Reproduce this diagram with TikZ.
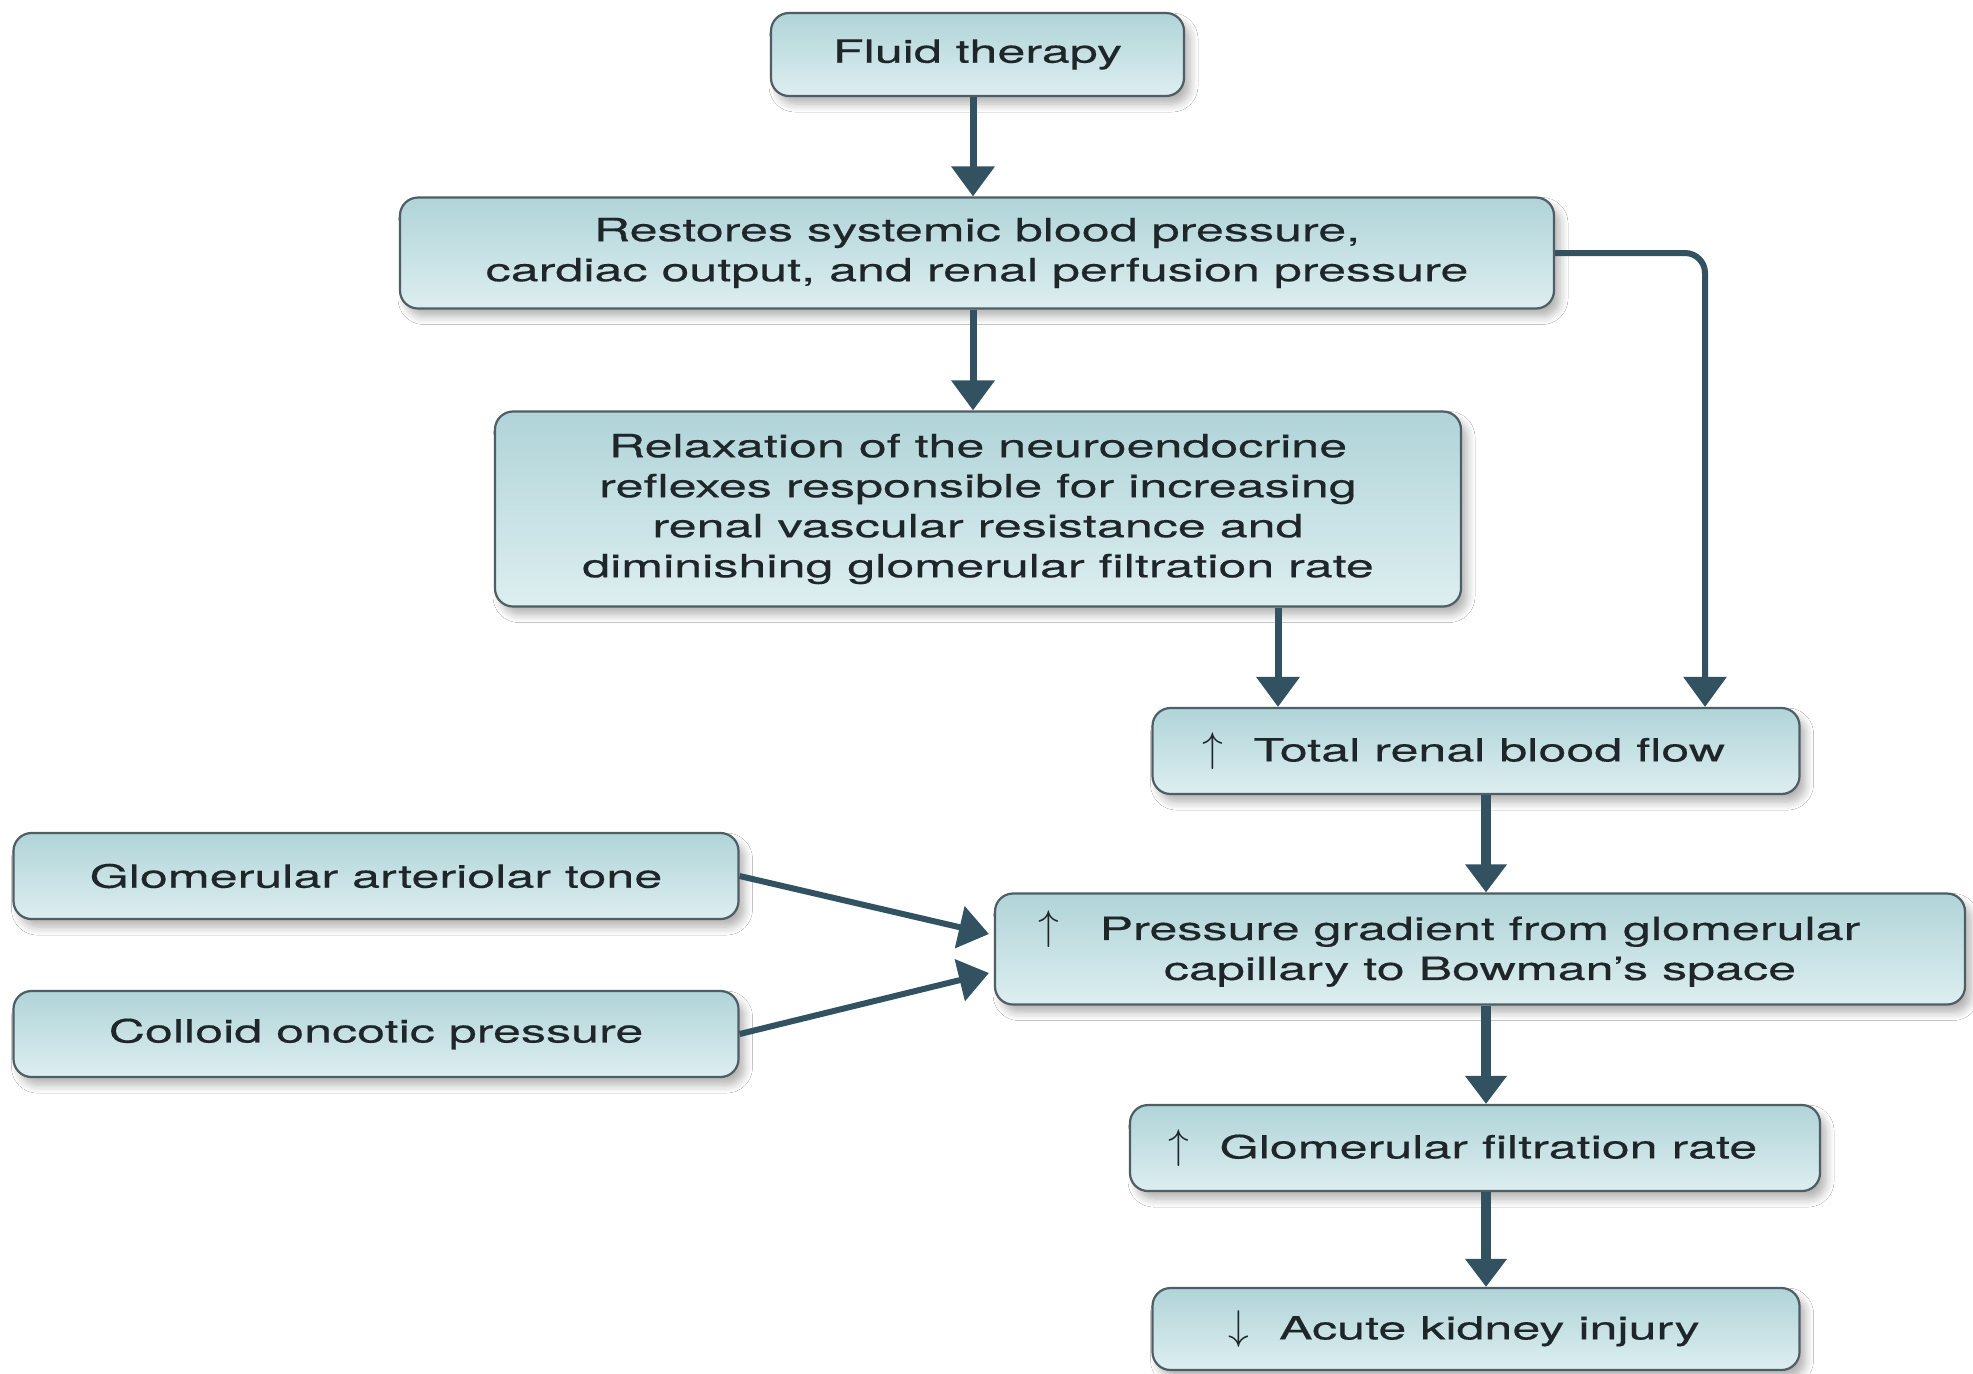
\documentclass[tikz,border=0pt]{standalone}
\usepackage{fontspec}
\newfontfamily\fs{TeX Gyre Heros}[FakeStretch=1.57,FakeBold=0.4]
\usetikzlibrary{arrows.meta,shadows.blur,calc}
\definecolor{arrc}{RGB}{50,82,98}
\definecolor{boxline}{RGB}{78,94,100}
\definecolor{boxtop}{RGB}{176,212,216}
\definecolor{boxbot}{RGB}{221,238,240}
\definecolor{txt}{RGB}{30,38,42}
\newcommand{\upar}{{\fontsize{21pt}{21pt}\selectfont$\uparrow$}}
\newcommand{\dnar}{{\fontsize{21pt}{21pt}\selectfont$\downarrow$}}
\tikzset{
  flowbox/.style={draw=boxline, line width=1.1pt, rounded corners=9pt,
    top color=boxtop, bottom color=boxbot, align=center, text=txt,
    inner sep=0pt, font=\fs\fontsize{16pt}{20pt}\selectfont,
    blur shadow={shadow xshift=3pt, shadow yshift=-4pt, shadow blur radius=4pt, shadow blur steps=8, shadow opacity=30}},
  arrthin/.style={draw=arrc, line width=3.5pt, -{Triangle[width=21pt,length=15pt]}},
  arrthick/.style={draw=arrc, line width=5.2pt, -{Triangle[width=20pt,length=14pt]}},
}
\begin{document}
\begin{tikzpicture}[x=0.5pt,y=-0.5pt]
\useasboundingbox[fill=white] (0,0) rectangle (1973,1373);

\node[flowbox, minimum width=206.5pt, minimum height=41.5pt] (fluid) at (977.5,54.5) {Fluid therapy};
\node[flowbox, minimum width=577pt, minimum height=55.5pt] (restore) at (977,253)
  {Restores systemic blood pressure,\\cardiac output, and renal perfusion pressure};
\node[flowbox, minimum width=483pt, minimum height=97.5pt] (relax) at (978,509)
  {Relaxation of the neuroendocrine\\reflexes responsible for increasing\\renal vascular resistance and\\diminishing glomerular filtration rate};
\node[flowbox, minimum width=323.5pt, minimum height=43pt] (total) at (1476,751)
  {\upar\hspace{15pt}Total renal blood flow\hspace{12pt}};
\node[flowbox, minimum width=362.5pt, minimum height=43pt] (gat) at (376,876) {Glomerular arteriolar tone};
\node[flowbox, minimum width=362.5pt, minimum height=43pt] (cop) at (376,1034) {Colloid oncotic pressure};
\node[flowbox, minimum width=485pt, minimum height=55.5pt] (press) at (1480,949)
  {\llap{\upar\hspace{20pt}}Pressure gradient from glomerular\\capillary to Bowman’s space};
\node[flowbox, minimum width=345pt, minimum height=43pt] (gfr) at (1475,1148)
  {\upar\hspace{15pt}Glomerular filtration rate\hspace{12pt}};
\node[flowbox, minimum width=323.5pt, minimum height=41pt] (aki) at (1476,1329)
  {\dnar\hspace{15pt}Acute kidney injury\hspace{12pt}};

% upper connectors
\coordinate (a1) at ($(fluid.south)+(-4.5,0)$);
\draw[arrthin] (a1) -- (a1 |- restore.north);
\coordinate (a2) at ($(restore.south)+(-4,0)$);
\draw[arrthin] (a2) -- (a2 |- relax.north);
\coordinate (tR) at ($(total.north)+(229,0)$);
\draw[arrthin, line width=3pt, rounded corners=10pt] (restore.east) -| (tR);
\coordinate (tL) at ($(total.north)+(-198,0)$);
\draw[arrthin] (relax.south -| tL) -- (tL);

% side inputs
\draw[arrthin, line width=3pt] (gat.east) -- ($(press.west)+(-5,-15)$);
\draw[arrthin, line width=3pt] (cop.east) -- ($(press.west)+(-5,24)$);

% trunk
\coordinate (b1) at ($(total.south)+(10,0)$);
\draw[arrthick] (b1) -- (b1 |- press.north);
\coordinate (b2) at ($(press.south)+(6,0)$);
\draw[arrthick] (b2) -- (b2 |- gfr.north);
\coordinate (b3) at ($(gfr.south)+(11,0)$);
\draw[arrthick] (b3) -- (b3 |- aki.north);
\end{tikzpicture}
\end{document}
